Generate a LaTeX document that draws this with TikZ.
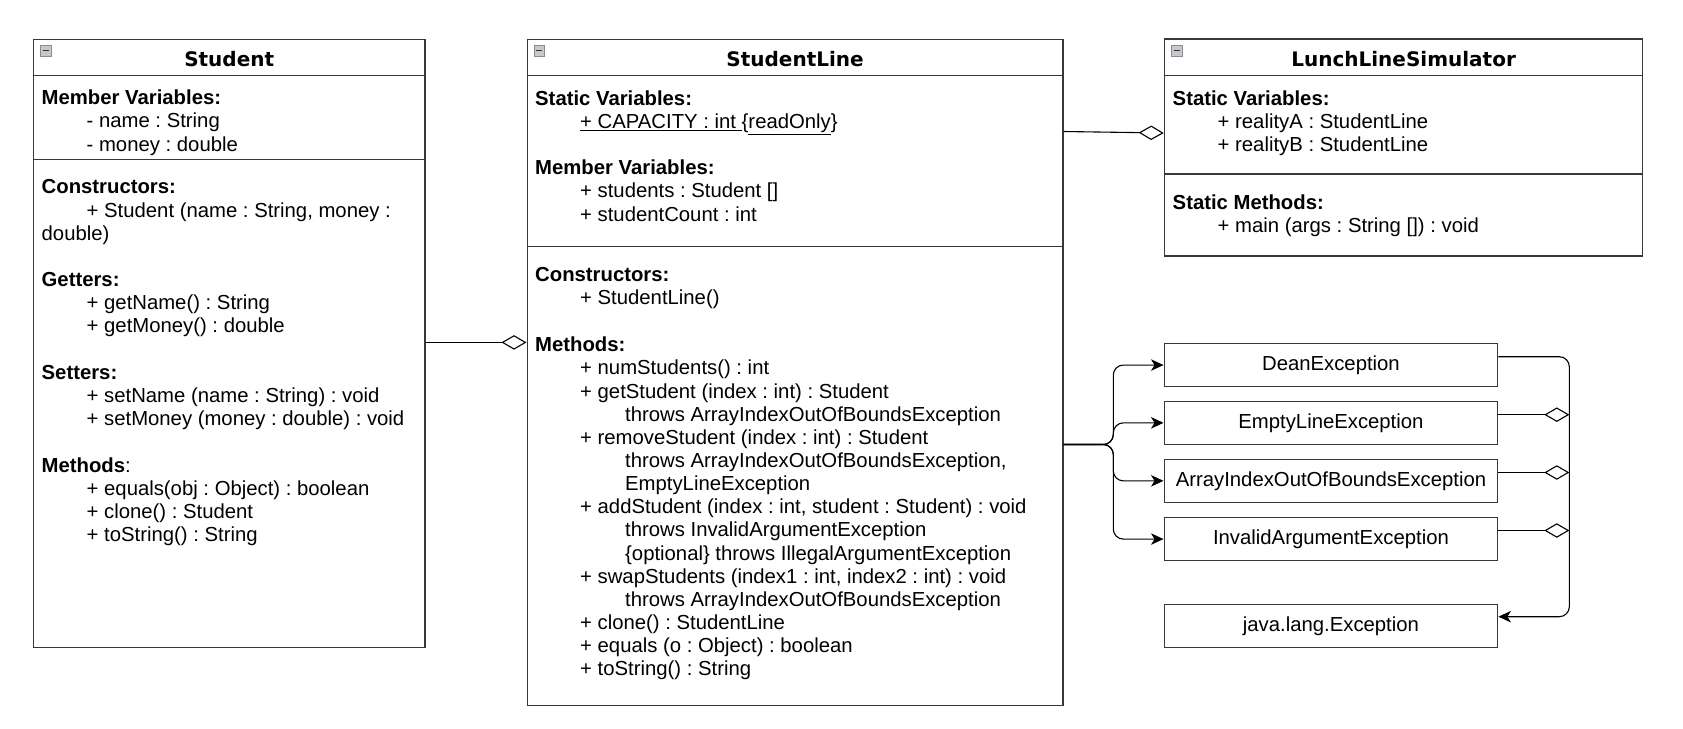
\documentclass[tikz,border=0pt]{standalone}
\usepackage{fontspec}
\setmainfont{Liberation Sans}
\newfontfamily\headfont{DejaVu Sans}
\usetikzlibrary{arrows.meta,calc}
\frenchspacing
\newcommand{\tabA}{\hspace*{45pt}}
\newcommand{\tabB}{\hspace*{90pt}}

\tikzset{
	classbox/.style={draw=black!78, line width=1.4pt, anchor=north west, inner sep=0pt},
	exbox/.style={draw=black!78, line width=1.4pt, anchor=north west, inner sep=0pt,
		minimum width=333.5pt, minimum height=43.3pt, font=\fontsize{20.3}{23.15}\selectfont},
	classname/.style={inner sep=0pt, font=\headfont\bfseries\fontsize{20}{24}\selectfont},
	members/.style={anchor=north west, align=left, inner sep=0pt, font=\fontsize{20.3}{23.15}\selectfont},
	sepline/.style={draw=black!78, line width=1.4pt},
	minusicon/.style={draw=black!45, fill=blue!12!black!22, line width=0.7pt, minimum size=10.5pt, inner sep=0pt, anchor=north west},
	hasa/.style={line width=1.1pt, -{Diamond[open, fill=white, length=25pt, width=14.5pt]}},
	uses/.style={line width=1.1pt, rounded corners=10pt, -{Stealth[length=12.5pt, width=11.5pt, inset=3.5pt]}},
}

\begin{document}
\begin{tikzpicture}[x=1pt, y=-1pt]
	\useasboundingbox (0,0) rectangle (1683,728);
	
	%%%%% Student %%%%%
	\node[classbox, minimum width=391.6pt, minimum height=608pt] (student) at (32.7,38.6) {};
	\node[minusicon] (studentIcon) at (40,45) {};
	\draw[line width=1.6pt, black!80] ($(studentIcon.center)+(-3,0)$) -- ($(studentIcon.center)+(3,0)$);
	\node[classname] (studentName) at ($(student.north)+(0,20.5)$) {Student};
	\draw[sepline] (student.west |- 0,75.5) -- (student.east |- 0,75.5);
	\draw[sepline] (student.west |- 0,159.3) -- (student.east |- 0,159.3);
	
	\node[members] (stuVars) at (41.5,89.8) {\textbf{Member Variables:}\\
		\tabA- name : String\\
		\tabA- money : double};
	\node[members] (stuCtors) at (41.5,179.5) {\textbf{Constructors:}\\
		\tabA+ Student (name : String, money :\\
		double)};
	\node[members] (stuGetters) at (41.5,272) {\textbf{Getters:}\\
		\tabA+ getName() : String\\
		\tabA+ getMoney() : double};
	\node[members] (stuSetters) at (41.5,364.7) {\textbf{Setters:}\\
		\tabA+ setName (name : String) : void\\
		\tabA+ setMoney (money : double) : void};
	\node[members] (stuMethods) at (41.5,457.5) {\textbf{Methods}:\\
		\tabA+ equals(obj : Object) : boolean\\
		\tabA+ clone() : Student\\
		\tabA+ toString() : String};
	
	%%%%% StudentLine %%%%%
	\node[classbox, minimum width=535.8pt, minimum height=666.4pt] (sline) at (526.5,38.6) {};
	\node[minusicon] (slineIcon) at (533.8,45) {};
	\draw[line width=1.6pt, black!80] ($(slineIcon.center)+(-3,0)$) -- ($(slineIcon.center)+(3,0)$);
	\node[classname] (slineName) at ($(sline.north)+(0,20.5)$) {StudentLine};
	\draw[sepline] (sline.west |- 0,75.5) -- (sline.east |- 0,75.5);
	\draw[sepline] (sline.west |- 0,246.5) -- (sline.east |- 0,246.5);
	
	\node[members] (slStatic) at (535,90.8) {\textbf{Static Variables:}\\
		\tabA\underline{+ CAPACITY : int }\{\underline{readOnly}\}};
	\node[members] (slVars) at (535,159.8) {\textbf{Member Variables:}\\
		\tabA+ students : Student []\\
		\tabA+ studentCount : int};
	\node[members] (slCtors) at (535,266.8) {\textbf{Constructors:}\\
		\tabA+ StudentLine()};
	\node[members] (slMethods) at (535,336.8) {\textbf{Methods:}\\
		\tabA+ numStudents() : int\\
		\tabA+ getStudent (index : int) : Student\\
		\tabB throws ArrayIndexOutOfBoundsException\\
		\tabA+ removeStudent (index : int) : Student\\
		\tabB throws ArrayIndexOutOfBoundsException,\\
		\tabB EmptyLineException\\
		\tabA+ addStudent (index : int, student : Student) : void\\
		\tabB throws InvalidArgumentException\\
		\tabB\{optional\} throws IllegalArgumentException\\
		\tabA+ swapStudents (index1 : int, index2 : int) : void\\
		\tabB throws ArrayIndexOutOfBoundsException\\
		\tabA+ clone() : StudentLine\\
		\tabA+ equals (o : Object) : boolean\\
		\tabA+ toString() : String};
	
	%%%%% LunchLineSimulator %%%%%
	\node[classbox, minimum width=478.3pt, minimum height=217pt] (lls) at (1163.7,38.3) {};
	\node[minusicon] (llsIcon) at (1171,45) {};
	\draw[line width=1.6pt, black!80] ($(llsIcon.center)+(-3,0)$) -- ($(llsIcon.center)+(3,0)$);
	\node[classname] (llsName) at ($(lls.north)+(0,20.8)$) {LunchLineSimulator};
	\draw[sepline] (lls.west |- 0,75.5) -- (lls.east |- 0,75.5);
	\draw[sepline] (lls.west |- 0,174) -- (lls.east |- 0,174);
	
	\node[members] (llsStatic) at (1172.5,90.5) {\textbf{Static Variables:}\\
		\tabA+ realityA : StudentLine\\
		\tabA+ realityB : StudentLine};
	\node[members] (llsMethods) at (1172.5,194.3) {\textbf{Static Methods:}\\
		\tabA+ main (args : String []) : void};
	
	%%%%% exceptions %%%%%
	\node[exbox] (deanEx) at (1163.5,342.7) {DeanException};
	\node[exbox] (emptyEx) at (1163.5,400.5) {EmptyLineException};
	\node[exbox] (arrayEx) at (1163.5,458.5) {ArrayIndexOutOfBoundsException};
	\node[exbox] (invalidEx) at (1163.5,516.7) {InvalidArgumentException};
	\node[exbox] (javaEx) at (1163.5,603.5) {java.lang.Exception};
	
	%%%%% connectors %%%%%
	\draw[hasa] (student.east |- 0,342.4) -- (sline.west |- 0,342.4);
	\draw[hasa] (sline.east |- 0,131.5) -- (lls.west |- 0,133);
	
	\coordinate (fork) at (1113.3,444.5);
	\draw[uses] (sline.east |- fork) -| (fork |- deanEx.west) -- (deanEx.west);
	\draw[uses] (sline.east |- fork) -| (fork |- emptyEx.west) -- (emptyEx.west);
	\draw[uses] (sline.east |- fork) -| (fork |- arrayEx.west) -- (arrayEx.west);
	\draw[uses] (sline.east |- fork) -| (fork |- invalidEx.west) -- (invalidEx.west);
	
	\coordinate (rail) at (1569.3,616.7);
	\draw[uses] (deanEx.east |- 0,356.7) -| (rail) -- (javaEx.east |- rail);
	\draw[hasa] (emptyEx.east |- 0,414.7) -- (rail |- 0,414.7);
	\draw[hasa] (arrayEx.east |- 0,472.5) -- (rail |- 0,472.5);
	\draw[hasa] (invalidEx.east |- 0,530.5) -- (rail |- 0,530.5);
	
\end{tikzpicture}
\end{document}
